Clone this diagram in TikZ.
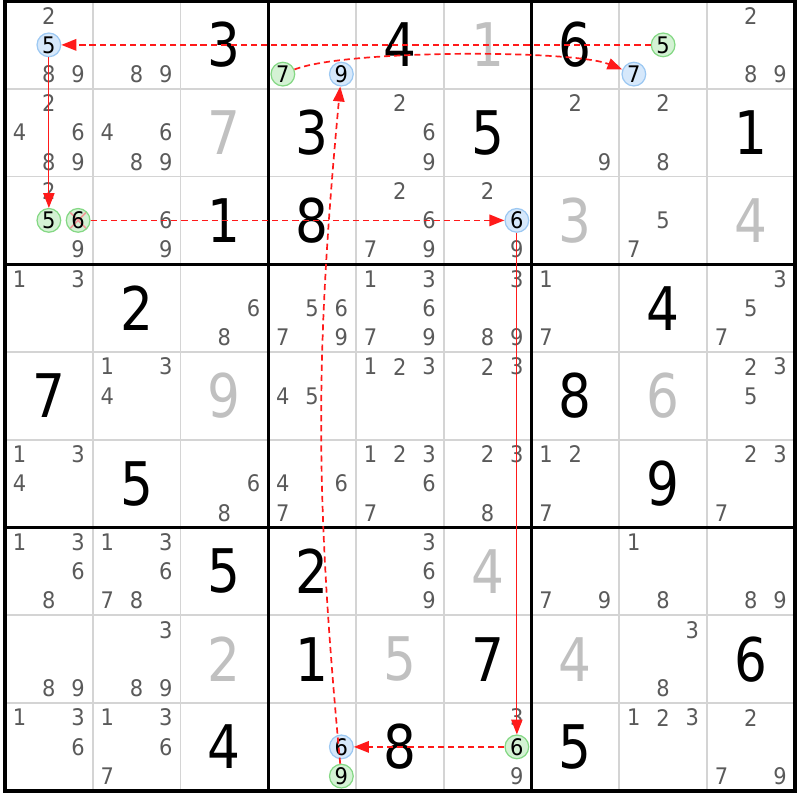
\documentclass[tikz,border=0pt]{standalone}
\usepackage{fontspec}
\setmainfont{DejaVu Sans}
\newfontfamily\bigdigits[FakeStretch=0.86]{DejaVu Sans}
\newfontfamily\smalldigits[FakeStretch=0.92]{DejaVu Sans}
\usetikzlibrary{arrows.meta}

\definecolor{candgray}{HTML}{5A5A5A}
\definecolor{solvedgray}{HTML}{C0C0C0}
\definecolor{cellline}{HTML}{D4D4D4}
\definecolor{bluefill}{HTML}{D6E8FB}
\definecolor{bluering}{HTML}{9CC8F2}
\definecolor{greenfill}{HTML}{D4F2D4}
\definecolor{greenring}{HTML}{84D884}
\definecolor{linkred}{HTML}{FF1A1A}
\definecolor{crossred}{HTML}{F29A9A}

% pencil marks of one cell: column, row, digits
\newcommand{\cands}[3]{%
  \foreach \d in {#3}{%
    \pgfmathsetmacro{\cx}{#1-1+(mod(\d-1,3)+0.5)/3}%
    \pgfmathsetmacro{\cy}{1-#2-(floor((\d-1)/3)+0.5)/3}%
    \node[cand] (p#2#1\d) at (\cx,\cy) {\d};
  }}

\begin{document}
\begin{tikzpicture}[
  cand/.style={text=candgray, font=\smalldigits\fontsize{7.4}{7.4}\selectfont, inner sep=0pt},
  given/.style={font=\bigdigits\fontsize{19.5}{19.5}\selectfont, inner sep=0pt},
  solved/.style={given, text=solvedgray},
  bluemark/.style={circle, draw=bluering, fill=bluefill, line width=0.4pt, minimum size=0.27cm,
    inner sep=0pt, font=\smalldigits\fontsize{7.4}{7.4}\selectfont},
  greenmark/.style={bluemark, draw=greenring, fill=greenfill},
  crossed/.style={greenmark, path picture={
    \draw[crossred, line width=0.5pt] (path picture bounding box.north west) -- (path picture bounding box.south east);
    \draw[crossred, line width=0.5pt] (path picture bounding box.north east) -- (path picture bounding box.south west);}},
  weaklink/.style={linkred, line width=0.55pt, dash pattern=on 0.07cm off 0.045cm,
    -{Triangle[length=0.17cm,width=0.13cm]}},
  stronglink/.style={linkred, line width=0.35pt, -{Triangle[length=0.17cm,width=0.13cm]}},
]

\useasboundingbox (-0.057,0.0114) rectangle (9.060,-9.105);

\draw[cellline, line width=0.5pt] (0,-9) grid (9,0);
\draw[line width=1pt, step=3] (0,-9) grid (9,0);
\draw[line width=1.2pt] (0,-9) rectangle (9,0);

% -------- Given and solved digits -----------
\foreach \c/\r/\v in {3/1/3, 5/1/4, 7/1/6, 4/2/3, 6/2/5, 9/2/1, 3/3/1, 4/3/8,
  2/4/2, 8/4/4, 1/5/7, 7/5/8, 2/6/5, 8/6/9, 3/7/5, 4/7/2,
  4/8/1, 6/8/7, 9/8/6, 3/9/4, 5/9/8, 7/9/5}
  \node[given] (v\r\c) at (\c-0.5,0.5-\r) {\v};
\foreach \c/\r/\v in {6/1/1, 3/2/7, 7/3/3, 9/3/4, 3/5/9, 8/5/6, 6/7/4,
  3/8/2, 5/8/5, 7/8/4}
  \node[solved] (v\r\c) at (\c-0.5,0.5-\r) {\v};

% -------- Pencil marks -----------
\cands{1}{1}{2,8,9}
\cands{2}{1}{8,9}
\cands{9}{1}{2,8,9}
\cands{1}{2}{2,4,6,8,9}
\cands{2}{2}{4,6,8,9}
\cands{5}{2}{2,6,9}
\cands{7}{2}{2,9}
\cands{8}{2}{2,8}
\cands{1}{3}{2,9}
\cands{2}{3}{6,9}
\cands{5}{3}{2,6,7,9}
\cands{6}{3}{2,9}
\cands{8}{3}{5,7}
\cands{1}{4}{1,3}
\cands{3}{4}{6,8}
\cands{4}{4}{5,6,7,9}
\cands{5}{4}{1,3,6,7,9}
\cands{6}{4}{3,8,9}
\cands{7}{4}{1,7}
\cands{9}{4}{3,5,7}
\cands{2}{5}{1,3,4}
\cands{4}{5}{4,5}
\cands{5}{5}{1,2,3}
\cands{6}{5}{2,3}
\cands{9}{5}{2,3,5}
\cands{1}{6}{1,3,4}
\cands{3}{6}{6,8}
\cands{4}{6}{4,6,7}
\cands{5}{6}{1,2,3,6,7}
\cands{6}{6}{2,3,8}
\cands{7}{6}{1,2,7}
\cands{9}{6}{2,3,7}
\cands{1}{7}{1,3,6,8}
\cands{2}{7}{1,3,6,7,8}
\cands{5}{7}{3,6,9}
\cands{7}{7}{7,9}
\cands{8}{7}{1,8}
\cands{9}{7}{8,9}
\cands{1}{8}{8,9}
\cands{2}{8}{3,8,9}
\cands{8}{8}{3,8}
\cands{1}{9}{1,3,6}
\cands{2}{9}{1,3,6,7}
\cands{6}{9}{3,9}
\cands{8}{9}{1,2,3}
\cands{9}{9}{2,7,9}

% -------- Marked candidates -----------
\node[bluemark]  (m5r1c1) at (0.5,-0.5) {5};
\node[greenmark] (m5r3c1) at (0.5,-2.5) {5};
\node[crossed]   (m6r3c1) at (0.8333,-2.5) {6};
\node[bluemark]  (m6r3c6) at (5.8333,-2.5) {6};
\node[greenmark] (m6r9c6) at (5.8333,-8.5) {6};
\node[bluemark]  (m6r9c4) at (3.8333,-8.5) {6};
\node[greenmark] (m9r9c4) at (3.8333,-8.8333) {9};
\node[bluemark]  (m9r1c4) at (3.8333,-0.8333) {9};
\node[greenmark] (m7r1c4) at (3.1667,-0.8333) {7};
\node[bluemark]  (m7r1c8) at (7.1667,-0.8333) {7};
\node[greenmark] (m5r1c8) at (7.5,-0.5) {5};

% -------- Chain -----------
\draw[weaklink]   (m5r1c8) -- (m5r1c1);
\draw[stronglink] (m5r1c1) -- (m5r3c1);
\draw[weaklink]   (m6r3c1) -- (m6r3c6);
\draw[stronglink] (m6r3c6) -- (m6r9c6);
\draw[weaklink]   (m6r9c6) -- (m6r9c4);
\draw[weaklink]   (m9r9c4) .. controls +(-0.3,3.2) and +(-0.3,-3.2) .. (m9r1c4);
\draw[weaklink]   (m7r1c4) .. controls +(0.7,0.28) and +(-0.7,0.28) .. (m7r1c8);
\end{tikzpicture}
\end{document}
